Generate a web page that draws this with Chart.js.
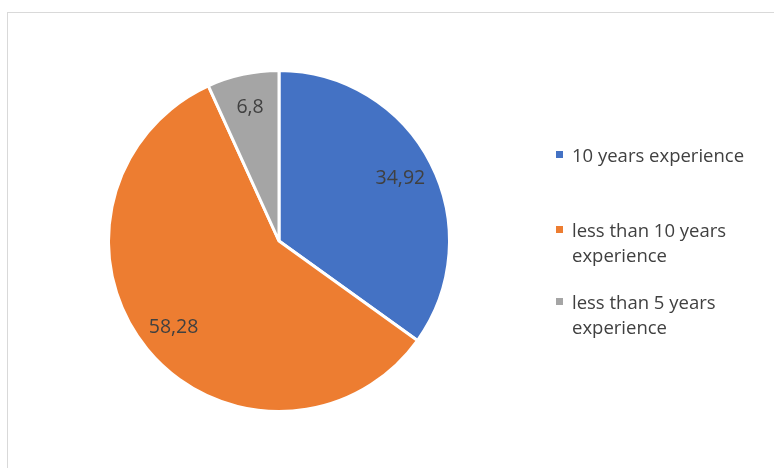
<!DOCTYPE html>
<html>
<head>
<meta charset="utf-8">
<script src="https://cdn.jsdelivr.net/npm/chart.js@4"></script>
<style>
  html, body { margin: 0; padding: 0; background: #fff; }
  #wrap { position: relative; width: 774px; height: 468px; overflow: hidden; }
  #frame { position: absolute; left: 7px; top: 12px; width: 900px; height: 600px; border: 1px solid #d9d9d9; }
  #c { position: absolute; left: 0; top: 0; }
  .leg { position: absolute; left: 556px; width: 215px; font-family: "Open Sans", sans-serif; font-size: 18.5px; line-height: 25px; color: #404040; }
  .leg i { position: absolute; left: 0; top: 9px; width: 7px; height: 7px; }
  .leg span { display: block; margin-left: 16px; }
</style>
</head>
<body>
<div id="wrap">
  <div id="frame"></div>
  <canvas id="c" width="774" height="468"></canvas>
</div>
<script>
// du lieu doc tu hinh
const labels = ['10 years experience', 'less than 10 years experience', 'less than 5 years experience'];
const values = [34.92, 58.28, 6.8];
const valueText = ['34,92', '58,28', '6,8'];
const colors = ['#4472c4', '#ed7d31', '#a5a5a5'];

// chu tren tung mieng
const labelPlugin = {
  id: 'sliceLabels',
  afterDatasetsDraw(chart) {
    const ctx = chart.ctx;
    const meta = chart.getDatasetMeta(0);
    ctx.save();
    ctx.font = '19.5px "Open Sans", sans-serif';
    ctx.fillStyle = '#404040';
    ctx.textAlign = 'center';
    ctx.textBaseline = 'middle';
    meta.data.forEach((arc, i) => {
      const mid = (arc.startAngle + arc.endAngle) / 2;
      const r = arc.outerRadius * 0.8;
      ctx.fillText(valueText[i], arc.x + Math.cos(mid) * r, arc.y + Math.sin(mid) * r);
    });
    ctx.restore();
  }
};

new Chart(document.getElementById('c').getContext('2d'), {
  type: 'pie',
  data: {
    labels: labels,
    datasets: [{
      data: values,
      backgroundColor: colors,
      borderColor: '#ffffff',
      borderWidth: 3
    }]
  },
  options: {
    responsive: false,
    animation: false,
    layout: { padding: { left: 107, right: 323, top: 69, bottom: 55 } },
    plugins: {
      legend: { display: false },
      tooltip: { enabled: false }
    }
  },
  plugins: [labelPlugin]
});

// chu thich ben phai
const legendTops = [142, 217, 289];
labels.forEach((txt, i) => {
  const d = document.createElement('div');
  d.className = 'leg';
  d.style.top = legendTops[i] + 'px';
  d.innerHTML = '<i style="background:' + colors[i] + '"></i><span>' + txt + '</span>';
  document.getElementById('wrap').appendChild(d);
});
</script>
</body>
</html>
